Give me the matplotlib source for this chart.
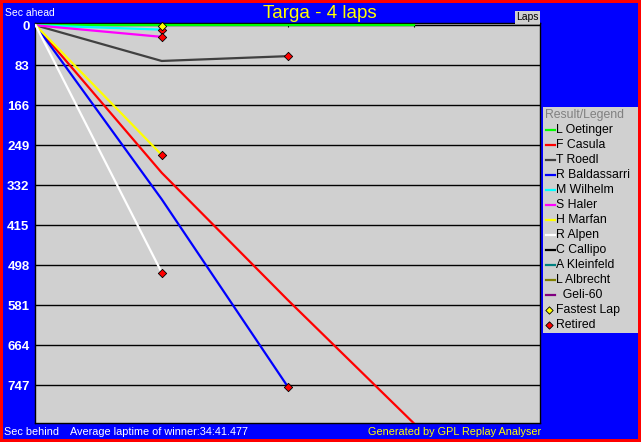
import matplotlib.pyplot as plt
from matplotlib.lines import Line2D

plt.rcParams['font.family'] = ['Liberation Sans', 'DejaVu Sans']

# laps and time behind the leader (sec) per driver
laps = [0, 1, 2, 3]
oetinger = [0, 0, 0, 0]
casula = [0, 306, 570, 826]
roedl = [0, 74, 64]
baldassarri = [0, 361, 750]
wilhelm = [0, 9]
haler = [0, 24]
marfan = [0, 269]
alpen = [0, 513]

drivers = ['L Oetinger', 'F Casula', 'T Roedl', 'R Baldassarri', 'M Wilhelm', 'S Haler',
           'H Marfan', 'R Alpen', 'C Callipo', 'A Kleinfeld', 'L Albrecht', '  Geli-60']
colors = ['#00ff00', '#ff0000', '#404040', '#0000ff', '#00ffff', '#ff00ff',
          '#ffff00', '#ffffff', '#000000', '#008080', '#808000', '#800080']
series = [oetinger, casula, roedl, baldassarri, wilhelm, haler, marfan, alpen]

retired_lap = [2, 2, 1, 1, 1, 1]
retired_val = [64, 750, 9, 24, 269, 513]
fastest_lap = [1]
fastest_val = [1]

yticks = [0, 83, 166, 249, 332, 415, 498, 581, 664, 747]

W, H = 641, 442
fig = plt.figure(figsize=(W / 100, H / 100), dpi=100)
fig.patch.set_facecolor('#0000ff')
fig.patch.set_edgecolor('#ff0000')
fig.patch.set_linewidth(3)

ax = fig.add_axes([35 / W, 1 - 422.7 / H, 505 / W, 400 / H])
ax.set_facecolor('#d0d0d0')
for s in ax.spines.values():
    s.set_color('black')
    s.set_linewidth(1)

for i, vals in enumerate(series):
    ax.plot(laps[:len(vals)], vals, color=colors[i], lw=1.6, zorder=3, clip_on=True)

ax.scatter(retired_lap, retired_val, marker='D', s=18, color='#ff0000',
           edgecolor='black', linewidth=0.6, zorder=5, clip_on=False)
ax.scatter(fastest_lap, fastest_val, marker='D', s=18, color='#ffff00',
           edgecolor='black', linewidth=0.6, zorder=5, clip_on=False)

ax.set_xlim(-0.005, 4)
ax.set_ylim(824.6, -5.4)
ax.set_yticks(yticks)
ax.set_yticklabels([str(v) for v in yticks], color='white', fontweight='bold', fontsize=9.5)
ax.tick_params(axis='y', length=0, pad=4)
ax.yaxis.grid(True, color='black', lw=1)
ax.set_axisbelow(True)
ax.set_xticks([0, 1, 2, 3])
ax.tick_params(axis='x', direction='in', length=3, top=True, bottom=False,
               labelbottom=False, color='black')

fig.text(320 / W, 1 - 14 / H, 'Targa - 4 laps', color='#ffff00', fontsize=13.5,
         ha='center', va='center')
fig.text(5 / W, 1 - 12.5 / H, 'Sec ahead', color='white', fontsize=7.5, va='center')
fig.text(4 / W, 1 - 432 / H, 'Sec behind', color='white', fontsize=7.8, va='center')
fig.text(70 / W, 1 - 432 / H, 'Average laptime of winner:34:41.477', color='white',
         fontsize=7.8, va='center')
fig.text(541 / W, 1 - 432 / H, 'Generated by GPL Replay Analyser', color='#ffff00',
         fontsize=7.8, va='center', ha='right')
fig.text(539 / W, 1 - 17.5 / H, 'Laps', color='black', fontsize=7.5, va='center', ha='right',
         bbox=dict(boxstyle='square,pad=0.1', fc='#d0d0d0', ec='none'))

# legend panel
lg = fig.add_axes([543 / W, 1 - 333 / H, 95 / W, 226 / H])
lg.set_facecolor('#d0d0d0')
lg.set_xlim(543, 638)
lg.set_ylim(333, 107)
lg.set_xticks([])
lg.set_yticks([])
for s in lg.spines.values():
    s.set_visible(False)
lg.text(545, 115, 'Result/Legend', color='#808080', fontsize=8.8, va='center')
y = 130
for name, c in zip(drivers, colors):
    lg.add_line(Line2D([546, 555], [y, y], color=c, lw=1.6))
    lg.text(556, y, name, color='black', fontsize=8.8, va='center')
    y += 15
lg.scatter([549], [y], marker='D', s=14, color='#ffff00', edgecolor='black', linewidth=0.6)
lg.text(556, y, 'Fastest Lap', color='black', fontsize=8.8, va='center')
y += 15
lg.scatter([549], [y], marker='D', s=14, color='#ff0000', edgecolor='black', linewidth=0.6)
lg.text(556, y, 'Retired', color='black', fontsize=8.8, va='center')

fig.savefig('out.png', dpi=100, facecolor=fig.get_facecolor(), edgecolor=fig.get_edgecolor())
